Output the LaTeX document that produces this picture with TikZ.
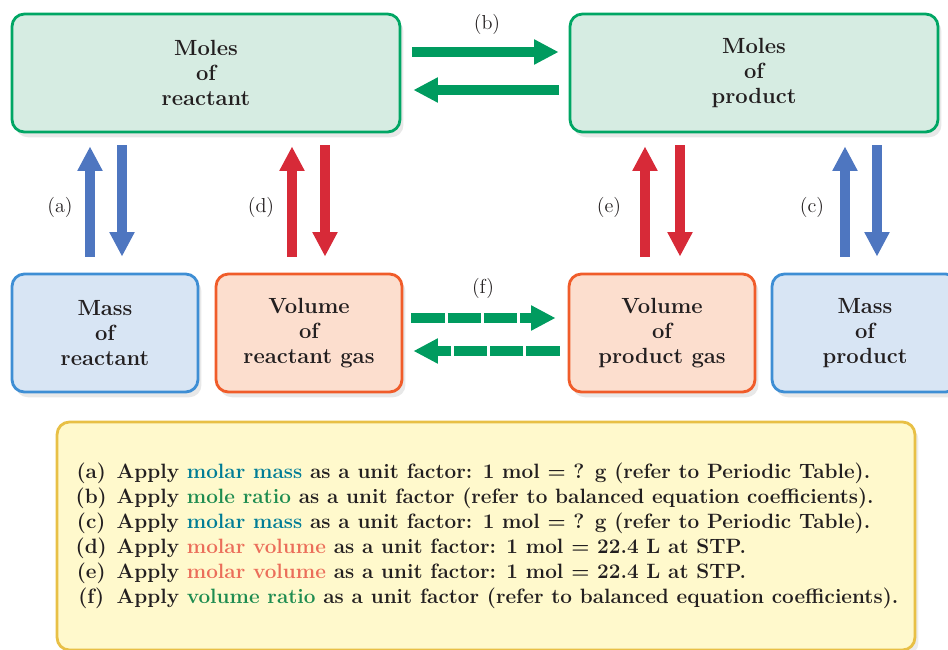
\documentclass[tikz,border=0pt]{standalone}
\usepackage{tikz}
\usetikzlibrary{arrows.meta,positioning,calc,shadows}
\definecolor{inkdark}{RGB}{35,31,32}
\definecolor{moleborder}{RGB}{0,166,100}
\definecolor{molefill}{RGB}{214,236,226}
\definecolor{massborder}{RGB}{62,142,212}
\definecolor{massfill}{RGB}{216,229,244}
\definecolor{volborder}{RGB}{240,92,42}
\definecolor{volfill}{RGB}{252,222,206}
\definecolor{notesborder}{RGB}{232,192,70}
\definecolor{notesfill}{RGB}{255,249,204}
\definecolor{arrowblue}{RGB}{78,118,192}
\definecolor{arrowred}{RGB}{215,42,56}
\definecolor{arrowgreen}{RGB}{0,155,95}
\definecolor{massword}{RGB}{0,125,150}
\definecolor{ratioword}{RGB}{30,140,80}
\definecolor{volword}{RGB}{235,110,90}
\newcommand{\notetag}[1]{\makebox[20pt][c]{#1}\hspace{4.5pt}}

\begin{document}
\begin{tikzpicture}[
  x=0.02cm, y=-0.02cm,
  every node/.style={text=inkdark},
  box/.style={rounded corners=7pt, line width=1.6pt, align=center,
    minimum height=2.36cm, font=\fontsize{12.5}{14.2}\selectfont\bfseries,
    drop shadow={opacity=0.18, shadow xshift=2pt, shadow yshift=-3pt}},
  molebox/.style={box, draw=moleborder, fill=molefill},
  massbox/.style={box, draw=massborder, fill=massfill, minimum width=3.72cm},
  volbox/.style={box, draw=volborder, fill=volfill, minimum width=3.72cm},
  tag/.style={font=\fontsize{11.5}{14}\selectfont},
  fat/.style={line width=6pt, -{Triangle[length=14pt,width=13.5pt]}},
  bluearrow/.style={fat, draw=arrowblue},
  redarrow/.style={fat, draw=arrowred},
  greenarrow/.style={fat, draw=arrowgreen},
  dashgreen/.style={greenarrow, dash pattern=on 19pt off 1.6pt},
  upgap/.style={shorten <=0.32cm, shorten >=0.26cm},
  downgap/.style={shorten <=0.24cm, shorten >=0.32cm}
]
\useasboundingbox (0,0) rectangle (948,650);

% Moles
\node[molebox, minimum width=7.76cm] (molesR) at (206,73) {Moles\\of\\reactant};
\node[molebox, minimum width=7.36cm] (molesP) at (754,73) {Moles\\of\\product};

% Mass and volume
\node[massbox] (massR) at (105,333) {Mass\\of\\reactant};
\node[volbox] (volR) at (309,333) {Volume\\of\\reactant gas};
\node[volbox] (volP) at (662,333) {Volume\\of\\product gas};
\node[massbox] (massP) at (865,333) {Mass\\of\\product};

% Arrow positions
\coordinate (aUp) at ($(massR.north)+(-15,0)$);
\coordinate (aDown) at ($(massR.north)+(17,0)$);
\coordinate (dUp) at ($(volR.north)+(-17,0)$);
\coordinate (dDown) at ($(volR.north)+(16,0)$);
\coordinate (eUp) at ($(volP.north)+(-17,0)$);
\coordinate (eDown) at ($(volP.north)+(18,0)$);
\coordinate (cUp) at ($(massP.north)+(-20,0)$);
\coordinate (cDown) at ($(massP.north)+(12,0)$);
\coordinate (bRight) at ($(molesR.east)+(0,-21)$);
\coordinate (bLeft) at ($(molesR.east)+(0,17)$);
\coordinate (fRight) at ($(volR.east)+(0,-15)$);
\coordinate (fLeft) at ($(volR.east)+(0,18)$);

% Vertical arrows
\draw[bluearrow, upgap] (aUp) -- (aUp |- molesR.south);
\draw[bluearrow, downgap] (aDown |- molesR.south) -- (aDown);
\draw[redarrow, upgap] (dUp) -- (dUp |- molesR.south);
\draw[redarrow, downgap] (dDown |- molesR.south) -- (dDown);
\draw[redarrow, upgap] (eUp) -- (eUp |- molesP.south);
\draw[redarrow, downgap] (eDown |- molesP.south) -- (eDown);
\draw[bluearrow, upgap] (cUp) -- (cUp |- molesP.south);
\draw[bluearrow, downgap] (cDown |- molesP.south) -- (cDown);

% Horizontal arrows
\draw[greenarrow, shorten <=0.22cm, shorten >=0.2cm] (bRight) -- (bRight -| molesP.west);
\draw[greenarrow, shorten <=0.2cm, shorten >=0.24cm] (bLeft -| molesP.west) -- (bLeft);
\draw[dashgreen, shorten <=0.16cm, shorten >=0.24cm] (fRight) -- (fRight -| volP.west);
\draw[dashgreen, shorten <=0.16cm, shorten >=0.2cm] (fLeft -| volP.west) -- (fLeft);

% Labels
\node[tag] (tagA) at (60,207) {(a)};
\node[tag] (tagD) at (261,207) {(d)};
\node[tag] (tagE) at (609,207) {(e)};
\node[tag] (tagC) at (812,207) {(c)};
\node[tag] (tagB) at (487,24) {(b)};
\node[tag] (tagF) at (483,288) {(f)};

% Legend
\node[draw=notesborder, fill=notesfill, rounded corners=7pt, line width=1.6pt,
  minimum width=17.16cm, minimum height=4.56cm, align=left,
  font=\fontsize{11.8}{14.2}\selectfont\bfseries,
  drop shadow={opacity=0.15, shadow xshift=2pt, shadow yshift=-3pt}] (notes) at (486,536) {%
\notetag{(a)}Apply \textcolor{massword}{molar mass} as a unit factor: 1 mol = ? g (refer to Periodic Table).\\
\notetag{(b)}Apply \textcolor{ratioword}{mole ratio} as a unit factor (refer to balanced equation coefficients).\\
\notetag{(c)}Apply \textcolor{massword}{molar mass} as a unit factor: 1 mol = ? g (refer to Periodic Table).\\
\notetag{(d)}Apply \textcolor{volword}{molar volume} as a unit factor: 1 mol = 22.4 L at STP.\\
\notetag{(e)}Apply \textcolor{volword}{molar volume} as a unit factor: 1 mol = 22.4 L at STP.\\
\notetag{(f)}Apply \textcolor{ratioword}{volume ratio} as a unit factor (refer to balanced equation coefficients).};

\end{tikzpicture}
\end{document}
